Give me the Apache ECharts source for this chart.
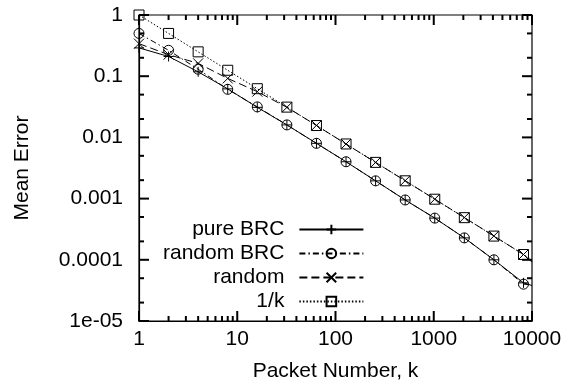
<!DOCTYPE html>
<html>
<head>
<meta charset="utf-8">
<script src="https://cdn.jsdelivr.net/npm/echarts@6/dist/echarts.min.js"></script>
<style>
html,body{margin:0;padding:0;background:#fff;}
#chart{width:565px;height:388px;}
</style>
</head>
<body>
<div id="chart"></div>
<script>
// ---- data ----
var packets   = [1, 2, 4, 8, 16, 32, 64, 128, 256, 512, 1024, 2048, 4096, 8192, 10000];
var pureBRC   = [0.29, 0.21, 0.118, 0.062, 0.031, 0.016, 0.0080, 0.0040, 0.00195, 0.00095, 0.00048, 0.000228, 0.0001, 0.000042, 0.000038];
var randomBRC = [0.5, 0.265, 0.13, 0.061, 0.0315, 0.016, 0.0080, 0.0040, 0.00195, 0.00095, 0.00048, 0.000228, 0.0001, 0.00004, 0.000039];
var randomV   = [0.34, 0.225, 0.162, 0.092, 0.056, 0.031, 0.0157, 0.0078, 0.0039, 0.00196, 0.00098, 0.00049, 0.000245, 0.000122, 0.000092];
var invK      = [1, 0.5, 0.25, 0.125, 0.0625, 0.03125, 0.015625, 0.0078125, 0.00390625, 0.001953, 0.000977, 0.000488, 0.000244, 0.000122, 0.0001];
var seriesNames = ['pure BRC', 'random BRC', 'random', '1/k'];

var xMajor = [1, 10, 100, 1000, 10000];
var xMajorLabels = ['1', '10', '100', '1000', '10000'];
var xMinor = [2,3,4,5,6,7,8,9,20,30,40,50,60,70,80,90,200,300,400,500,600,700,800,900,2000,3000,4000,5000,6000,7000,8000,9000];
var yMajor = [0.00001, 0.0001, 0.001, 0.01, 0.1, 1];
var yMajorLabels = ['1e-05', '0.0001', '0.001', '0.01', '0.1', '1'];
var yMinor = [0.00002, 0.00005, 0.0002, 0.0005, 0.002, 0.005, 0.02, 0.05, 0.2, 0.5];

// ---- build ----
var FONT = '"Liberation Sans", Arial, Helvetica, sans-serif';
var FS = 21;
var black = '#000';
var X_MIN = 1, X_MAX = 10000, Y_MIN = 0.00001, Y_MAX = 1;
var nMarked = 14; // the last point (k = 10000) only ends the line
function pairs(ys){
  return packets.map(function(k,i){
    return i < nMarked ? [k, ys[i]] : {value:[k, ys[i]], symbol:'none'};
  });
}
function labelFor(vals, labels){
  return function(v){
    var lv = Math.round(Math.log10(v));
    for (var i=0;i<vals.length;i++){ if (Math.round(Math.log10(vals[i]))===lv) return labels[i]; }
    return '';
  };
}

var PLUS = 'path://M0,5L10,5M5,0L5,10';
var CROSS = 'path://M0,0L10,10M0,10L10,0';

var xMain = {
  type:'log', logBase:10, min:X_MIN, max:X_MAX, position:'bottom',
  axisLine:{show:true, onZero:false, lineStyle:{color:black, width:1.2}},
  axisTick:{show:false}, splitLine:{show:false},
  axisLabel:{show:true, formatter:labelFor(xMajor, xMajorLabels), color:black, fontFamily:FONT, fontSize:FS, margin:8},
  name:'Packet Number, k', nameLocation:'middle', nameGap:40,
  nameTextStyle:{color:black, fontFamily:FONT, fontSize:FS}
};
var yMain = {
  type:'log', logBase:10, min:Y_MIN, max:Y_MAX, position:'left',
  axisLine:{show:true, onZero:false, lineStyle:{color:black, width:1.2}},
  axisTick:{show:false}, splitLine:{show:false},
  axisLabel:{show:true, formatter:labelFor(yMajor, yMajorLabels), color:black, fontFamily:FONT, fontSize:FS, margin:16},
  name:'Mean Error', nameLocation:'middle', nameRotate:90, nameGap:106,
  nameTextStyle:{color:black, fontFamily:FONT, fontSize:FS}
};

var styles = [
  {sym: PLUS, dash: 'solid'},
  {sym: 'circle', dash: [6,3,1.5,3]},
  {sym: CROSS, dash: [8,4]},
  {sym: 'rect', dash: [1.5,2]}
];
var dataSets = [pureBRC, randomBRC, randomV, invK];

var series = seriesNames.map(function(name, i){
  return {
    name: name, type:'line', xAxisIndex:0, yAxisIndex:0,
    data: pairs(dataSets[i]),
    symbol: styles[i].sym, symbolSize: 10,
    showSymbol: true, smooth:false, animation:false, z:3,
    lineStyle:{color:black, width:1, type:styles[i].dash},
    itemStyle:{color:'rgba(0,0,0,0)', borderColor:black, borderWidth:1},
    emphasis:{disabled:true}
  };
});

// inward tick marks on all four sides, placed through the axes' scales
function tickSeries(points, size, offset){
  return {
    type:'scatter', data:points, symbol:'rect', symbolSize:size, symbolOffset:offset,
    itemStyle:{color:black, opacity:1}, silent:true, clip:false, animation:false, z:10,
    emphasis:{disabled:true}
  };
}
var MAJ = 10, MIN = 5, TW = 2;
series.push(tickSeries(xMajor.map(function(v){return [v, Y_MIN];}), [TW, MAJ], [0, -MAJ/2]));
series.push(tickSeries(xMinor.map(function(v){return [v, Y_MIN];}), [TW, MIN], [0, -MIN/2]));
series.push(tickSeries(xMajor.map(function(v){return [v, Y_MAX];}), [TW, MAJ], [0, MAJ/2]));
series.push(tickSeries(xMinor.map(function(v){return [v, Y_MAX];}), [TW, MIN], [0, MIN/2]));
series.push(tickSeries(yMajor.map(function(v){return [X_MIN, v];}), [MAJ, TW], [MAJ/2, 0]));
series.push(tickSeries(yMinor.map(function(v){return [X_MIN, v];}), [MIN, TW], [MIN/2, 0]));
series.push(tickSeries(yMajor.map(function(v){return [X_MAX, v];}), [MAJ, TW], [-MAJ/2, 0]));
series.push(tickSeries(yMinor.map(function(v){return [X_MAX, v];}), [MIN, TW], [-MIN/2, 0]));

var chart = echarts.init(document.getElementById('chart'), null, {renderer:'canvas'});
chart.setOption({
  animation:false,
  backgroundColor:'#fff',
  grid:{left:139, right:33, top:15, bottom:67, containLabel:false,
        show:true, borderColor:black, borderWidth:1.2, backgroundColor:'transparent'},
  xAxis:[ xMain ],
  yAxis:[ yMain ],
  legend:{
    show:true, orient:'vertical', align:'right',
    left:158, top:214, itemGap:3, itemWidth:64, itemHeight:12,
    textStyle:{color:black, fontFamily:FONT, fontSize:FS, padding:[0,10,0,0]},
    selectedMode:false,
    data: seriesNames
  },
  series: series
});
</script>
</body>
</html>
